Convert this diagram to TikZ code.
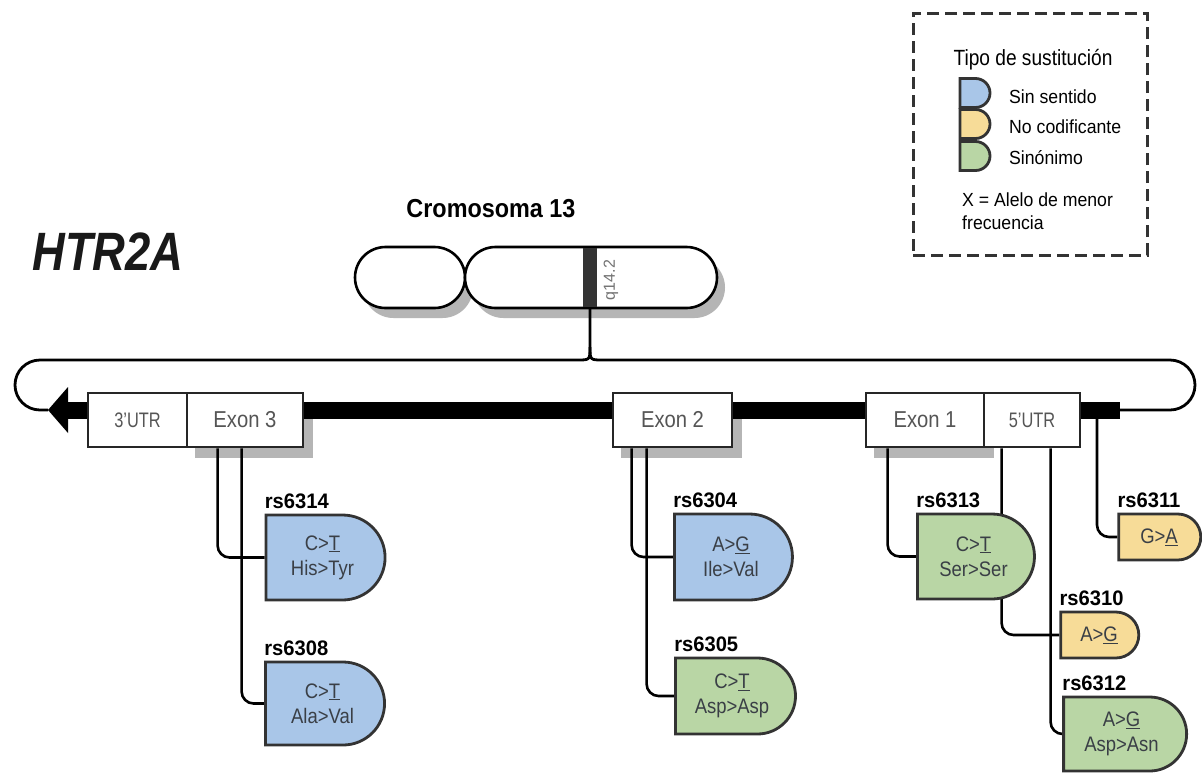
\documentclass[tikz,border=0pt]{standalone}
\usepackage{fontspec}
\setmainfont{Liberation Sans}
\usetikzlibrary{shapes.misc}
\pgfdeclarelayer{bg}
\pgfdeclarelayer{paper}
\pgfsetlayers{paper,bg,main}
\definecolor{snpblue}{HTML}{A9C6E8}
\definecolor{snpyellow}{HTML}{F7DC98}
\definecolor{snpgreen}{HTML}{B9D6A5}
\definecolor{shadowc}{HTML}{B5B5B5}
\definecolor{boxtext}{HTML}{555555}
\definecolor{snptext}{HTML}{3A3F46}
\newcommand{\sqz}[2][0.88]{\scalebox{#1}[1]{#2}}
\begin{document}
\begin{tikzpicture}[x=1pt,y=-1pt,
  conn/.style={line width=2.6pt, rounded corners=12pt},
  genebox/.style={draw=black!85, line width=2.8pt, fill=white, minimum height=54pt, inner sep=0pt, text=boxtext},
  exonfont/.style={font=\fontsize{23}{26}\selectfont},
  utrfont/.style={font=\fontsize{21}{24}\selectfont},
  snp/.style={rounded rectangle, rounded rectangle left arc=none, draw=black!80, line width=2.8pt, inner sep=0pt, align=center, text=snptext, font=\fontsize{21}{25}\selectfont},
  rslab/.style={anchor=base west, inner sep=0pt, font=\bfseries\fontsize{21}{24}\selectfont},
  chrom/.style={rounded rectangle, draw=black, line width=2.6pt, fill=white, minimum height=61pt, inner sep=0pt},
  legD/.style={rounded rectangle, rounded rectangle left arc=none, draw=black!80, line width=2.8pt, minimum width=30pt, minimum height=29pt, inner sep=0pt},
  legtext/.style={anchor=west, inner sep=0pt, font=\fontsize{19}{23}\selectfont},
]
\useasboundingbox (0,0) rectangle (1202,772);
\begin{pgfonlayer}{paper}
\fill[white] (0,0) rectangle (1202,772);
\end{pgfonlayer}

% titles
\node[font=\bfseries\itshape\fontsize{54}{60}\selectfont, inner sep=0pt, text=black!90] (htr) at (108,252) {\sqz[0.84]{HTR2A}};
\node[font=\bfseries\fontsize{26}{30}\selectfont, inner sep=0pt] (crom) at (491,209) {\sqz[0.9]{Cromosoma 13}};

% chromosome
\node[chrom, minimum width=110pt] (chrL) at (410,277.5) {};
\node[chrom, minimum width=252pt] (chrR) at (591,277.5) {};
\node[fill=black!80, minimum width=14pt, minimum height=59pt, inner sep=0pt] (band) at (590,277.5) {};
\node[rotate=90, text=black!55, font=\fontsize{16}{17}\selectfont, inner sep=0pt] (qlab) at (611,280) {q14.2};

% gene boxes
\node[genebox, utrfont, minimum width=99pt] (utr3) at (137.5,420) {\sqz[0.78]{3'UTR}};
\node[genebox, exonfont, minimum width=116pt] (ex3) at (245,420) {\sqz[0.88]{Exon 3}};
\node[genebox, exonfont, minimum width=119pt] (ex2) at (672.5,420) {\sqz[0.88]{Exon 2}};
\node[genebox, exonfont, minimum width=118pt] (ex1) at (925,420) {\sqz[0.88]{Exon 1}};
\node[genebox, utrfont, minimum width=96pt] (utr5) at (1032,420) {\sqz[0.78]{5'UTR}};

% SNP nodes
\node[snp, fill=snpblue, minimum width=119pt, minimum height=85pt] (s6314) at (322.5,557.5) {\sqz{C>\underline{T}}\\\sqz{His>Tyr}};
\node[snp, fill=snpblue, minimum width=119pt, minimum height=83pt] (s6308) at (322.5,703.5) {\sqz{C>\underline{T}}\\\sqz{Ala>Val}};
\node[snp, fill=snpblue, minimum width=118pt, minimum height=86pt] (s6304) at (731,557) {\sqz{A>\underline{G}}\\\sqz{Ile>Val}};
\node[snp, fill=snpgreen, minimum width=120pt, minimum height=76pt] (s6305) at (732,696) {\sqz{C>\underline{T}}\\\sqz{Asp>Asp}};
\node[snp, fill=snpgreen, minimum width=117pt, minimum height=85pt] (s6313) at (973.5,556.5) {\sqz{C>\underline{T}}\\\sqz{Ser>Ser}};
\node[snp, fill=snpyellow, minimum width=82pt, minimum height=46pt] (s6311) at (1159,537) {\sqz{G>\underline{A}}};
\node[snp, fill=snpyellow, minimum width=78pt, minimum height=46pt] (s6310) at (1099,635) {\sqz{A>\underline{G}}};
\node[snp, fill=snpgreen, minimum width=123pt, minimum height=74pt] (s6312) at (1121.5,734) {\sqz{A>\underline{G}}\\\sqz{Asp>Asn}};

\node[rslab] (l6314) at ([yshift=5pt]s6314.north west) {\sqz[0.96]{rs6314}};
\node[rslab] (l6308) at ([yshift=5pt]s6308.north west) {\sqz[0.96]{rs6308}};
\node[rslab] (l6304) at ([yshift=5pt]s6304.north west) {\sqz[0.96]{rs6304}};
\node[rslab] (l6305) at ([yshift=5pt]s6305.north west) {\sqz[0.96]{rs6305}};
\node[rslab] (l6313) at ([yshift=5pt]s6313.north west) {\sqz[0.96]{rs6313}};
\node[rslab] (l6311) at ([yshift=5pt]s6311.north west) {\sqz[0.96]{rs6311}};
\node[rslab] (l6310) at ([yshift=5pt]s6310.north west) {\sqz[0.96]{rs6310}};
\node[rslab] (l6312) at ([yshift=5pt]s6312.north west) {\sqz[0.96]{rs6312}};

% legend
\node[draw=black!80, dash pattern=on 12pt off 6pt, line width=3pt, minimum width=234pt, minimum height=242pt, inner sep=0pt] (leg) at (1030,134) {};
\node[inner sep=0pt, font=\fontsize{22}{26}\selectfont] (legtitle) at (1033,60) {\sqz[0.87]{Tipo de sustitución}};
\node[legD, fill=snpblue] (ld1) at (975,93) {};
\node[legD, fill=snpyellow] (ld2) at (975,124) {};
\node[legD, fill=snpgreen] (ld3) at (975,156) {};
\node[legtext] (lt1) at (1009,97) {\sqz[0.93]{Sin sentido}};
\node[legtext] (lt2) at (1009,127) {\sqz[0.93]{No codificante}};
\node[legtext] (lt3) at (1009,158) {\sqz[0.93]{Sinónimo}};
\node[legtext, align=left] (lt4) at (962,211) {\sqz[0.93]{X = Alelo de menor}\\\sqz[0.93]{frecuencia}};

\begin{pgfonlayer}{bg}
  % chromosome shadows
  \node[chrom, draw=none, fill=shadowc, minimum width=110pt] (chrLsh) at (418,287.5) {};
  \node[chrom, draw=none, fill=shadowc, minimum width=252pt] (chrRsh) at (599,287.5) {};
  % brace and loop
  \coordinate (brace) at (590,347);
  \coordinate (tip) at (48,410);
  \coordinate (barL) at (66,410);
  \coordinate (barR) at (1120,410);
  \coordinate (b6311) at (1097,410);
  \draw[line width=2.8pt] (band.south) -- (brace) .. controls (590,360) .. (577,360) [rounded corners=25pt] -- (15,360) -- (15,410) -- (tip);
  \draw[line width=2.8pt] (brace) .. controls (590,360) .. (603,360) [rounded corners=25pt] -- (1195,360) -- (1195,410) -- (barR);
  % exon shadows
  \fill[shadowc] ([shift={(9pt,-10pt)}]ex3.north west) rectangle ([shift={(9pt,-10pt)}]ex3.south east);
  \fill[shadowc] ([shift={(9pt,-10pt)}]ex2.north west) rectangle ([shift={(9pt,-10pt)}]ex2.south east);
  \fill[shadowc] ([shift={(9pt,-10pt)}]ex1.north west) rectangle ([shift={(9pt,-10pt)}]ex1.south east);
  % connectors
  \draw[conn] ([xshift=32pt]ex3.south west) |- (s6314.west);
  \draw[conn] ([xshift=56pt]ex3.south west) |- (s6308.west);
  \draw[conn] ([xshift=20pt]ex2.south west) |- (s6304.west);
  \draw[conn] ([xshift=35pt]ex2.south west) |- (s6305.west);
  \draw[conn] ([xshift=23pt]ex1.south west) |- (s6313.west);
  \draw[conn] ([xshift=19pt]utr5.south west) |- (s6310.west);
  \draw[conn] ([xshift=68pt]utr5.south west) |- (s6312.west);
  \draw[conn] (b6311) |- (s6311.west);
  % gene bar and arrow head
  \draw[line width=17pt] (barR) -- (barL);
  \fill (tip) -- (68,387) -- (68,433) -- cycle;
\end{pgfonlayer}
\end{tikzpicture}
\end{document}
